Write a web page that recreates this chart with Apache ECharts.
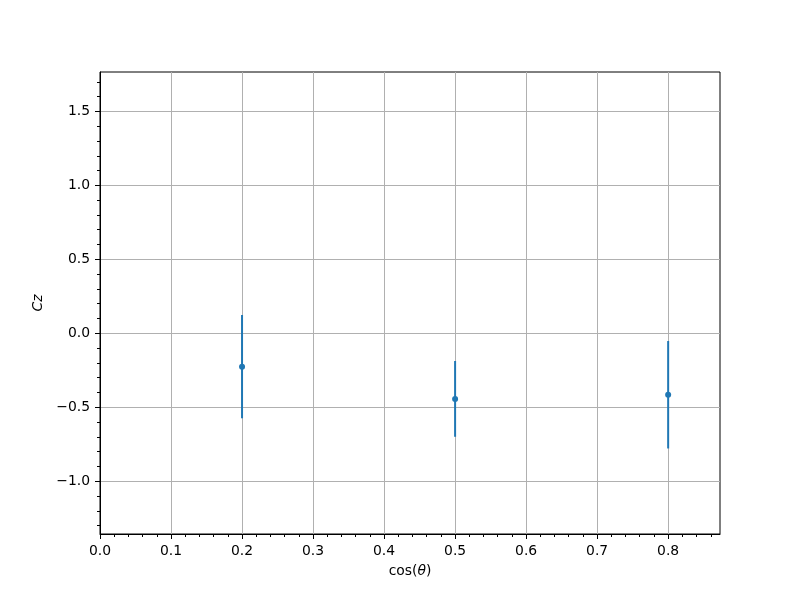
<!DOCTYPE html>
<html>
<head>
<meta charset="utf-8">
<script src="https://cdn.jsdelivr.net/npm/echarts@6/dist/echarts.min.js"></script>
<style>html,body{margin:0;padding:0;background:#fff;}#c{width:800px;height:600px;}</style>
</head>
<body>
<div id="c"></div>
<script>
const xValues = [0.2, 0.5, 0.8];
const yValues = [-0.225, -0.443, -0.415];
const yErrors = [0.349, 0.256, 0.363];

const xMajorTicks = [0.0, 0.1, 0.2, 0.3, 0.4, 0.5, 0.6, 0.7, 0.8];
const xMinorTicks = [0.02,0.04,0.06,0.08,0.12,0.14,0.16,0.18,0.22,0.24,0.26,0.28,0.32,0.34,0.36,0.38,0.42,0.44,0.46,0.48,0.52,0.54,0.56,0.58,0.62,0.64,0.66,0.68,0.72,0.74,0.76,0.78,0.82,0.84,0.86];
const yMajorTicks = [-1.0, -0.5, 0.0, 0.5, 1.0, 1.5];
const yMinorTicks = [-1.3,-1.2,-1.1,-0.9,-0.8,-0.7,-0.6,-0.4,-0.3,-0.2,-0.1,0.1,0.2,0.3,0.4,0.6,0.7,0.8,0.9,1.1,1.2,1.3,1.4,1.6,1.7];

const xMin = 0, xMax = 0.873;
const yMin = -1.356, yMax = 1.766;

const FONT = 'DejaVu Sans';
const color = '#1f77b4';
const fmt = v => (v < 0 ? '\u2212' : '') + Math.abs(v).toFixed(1);

const chart = echarts.init(document.getElementById('c'), null, {renderer: 'canvas'});

const baseAxis = {
  axisLine: {show: false, onZero: false},
  axisLabel: {show: false},
  splitLine: {show: false}
};

chart.setOption({
  animation: false,
  backgroundColor: '#fff',
  grid: {left: 100, right: 80, top: 72, bottom: 66, show: true, borderColor: '#000', borderWidth: 1, backgroundColor: 'transparent'},
  xAxis: [
    {
      type: 'value', min: xMin, max: xMax, position: 'bottom',
      name: 'cos({i|θ})', nameLocation: 'middle', nameGap: 30,
      nameTextStyle: {fontFamily: FONT, fontSize: 13.9, color: '#000', rich: {i: {fontFamily: FONT, fontStyle: 'italic', fontSize: 13.9, color: '#000'}}},
      axisLine: {show: true, onZero: false, lineStyle: {color: '#000', width: 1}},
      axisTick: {show: true, inside: false, length: 5, lineStyle: {color: '#000', width: 1}, customValues: xMajorTicks},
      axisLabel: {show: true, margin: 10, fontFamily: FONT, fontSize: 13.9, color: '#000', formatter: fmt, customValues: xMajorTicks},
      splitLine: {show: true, lineStyle: {color: '#b0b0b0', width: 1}}
    },
    Object.assign({}, baseAxis, {
      type: 'value', min: xMin, max: xMax, position: 'bottom',
      axisTick: {show: true, length: 3, lineStyle: {color: '#000', width: 1}, customValues: xMinorTicks}
    })
  ],
  yAxis: [
    {
      type: 'value', min: yMin, max: yMax, position: 'left',
      name: 'Cz', nameLocation: 'middle', nameGap: 48,
      nameTextStyle: {fontFamily: FONT, fontSize: 13.9, color: '#000', fontStyle: 'italic'},
      axisLine: {show: true, onZero: false, lineStyle: {color: '#000', width: 1}},
      axisTick: {show: true, inside: false, length: 5, lineStyle: {color: '#000', width: 1}, customValues: yMajorTicks},
      axisLabel: {show: true, margin: 10, fontFamily: FONT, fontSize: 13.9, color: '#000', formatter: fmt, customValues: yMajorTicks},
      splitLine: {show: true, lineStyle: {color: '#b0b0b0', width: 1}}
    },
    Object.assign({}, baseAxis, {
      type: 'value', min: yMin, max: yMax, position: 'left',
      axisTick: {show: true, length: 3, lineStyle: {color: '#000', width: 1}, customValues: yMinorTicks}
    })
  ],
  series: [
    {
      type: 'custom',
      xAxisIndex: 0, yAxisIndex: 0,
      data: xValues.map((x, i) => [x, yValues[i], yErrors[i]]),
      renderItem: function (params, api) {
        const x = api.value(0), y = api.value(1), e = api.value(2);
        const p1 = api.coord([x, y + e]);
        const p2 = api.coord([x, y - e]);
        return {
          type: 'line',
          shape: {x1: p1[0], y1: p1[1], x2: p2[0], y2: p2[1]},
          style: {stroke: color, lineWidth: 2}
        };
      },
      z: 3
    },
    {
      type: 'scatter',
      xAxisIndex: 0, yAxisIndex: 0,
      data: xValues.map((x, i) => [x, yValues[i]]),
      symbol: 'circle', symbolSize: 6,
      itemStyle: {color: color, opacity: 1},
      z: 4
    }
  ]
});
</script>
</body>
</html>
